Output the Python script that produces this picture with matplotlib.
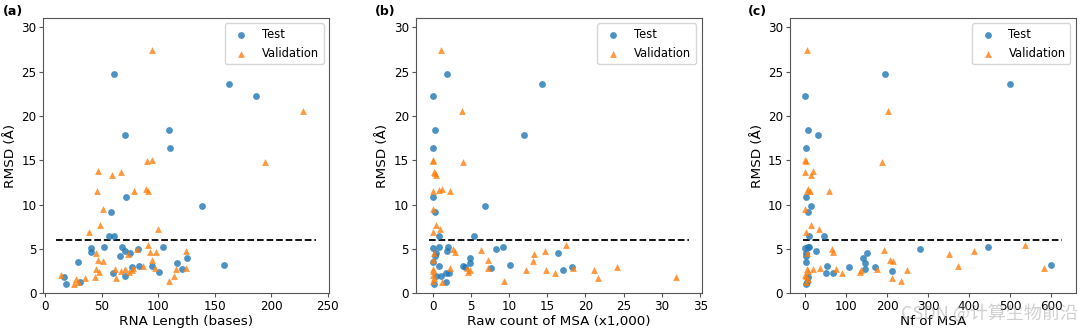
import matplotlib
matplotlib.use("Agg")
import matplotlib.pyplot as plt

# ---- data ----
a_test_x = [61, 163, 187, 110, 71, 111, 72, 139, 58, 57, 61, 41, 41, 52, 68, 71, 66, 75, 82, 104,
            29, 77, 83, 95, 117, 126, 121, 158, 101, 60, 71, 17, 19, 31]
a_test_y = [24.8, 23.6, 22.3, 18.4, 17.9, 16.4, 10.9, 9.8, 9.2, 6.5, 6.5, 5.1, 4.7, 5.2, 5.2, 4.8, 4.2, 4.5, 5.0, 5.2,
            3.5, 3.0, 3.1, 3.1, 3.4, 4.0, 2.7, 3.2, 2.4, 2.3, 2.0, 1.8, 1.0, 1.3]
a_val_x = [95, 228, 195, 90, 95, 47, 59, 67, 46, 79, 89, 91, 51, 49, 39, 100, 45, 91, 93, 98, 125, 73, 81,
           47, 51, 95, 45, 48, 35, 44, 27, 26, 14, 63, 62, 67, 71, 74, 77, 78, 87, 97, 110, 114, 116, 125, 29]
a_val_y = [27.4, 20.6, 14.8, 14.9, 15.0, 13.8, 13.4, 13.7, 11.5, 11.5, 11.8, 11.6, 9.5, 7.7, 6.9, 7.3, 4.5, 5.5,
           4.7, 4.7, 4.8, 4.4, 5.0, 3.8, 3.7, 3.8, 2.7, 2.4, 1.7, 1.8, 1.6, 1.1, 2.1, 1.7, 2.7, 2.5, 2.7, 2.4,
           2.6, 2.9, 3.1, 2.9, 1.4, 1.9, 2.7, 2.9, 1.3]

b_test_x = [1.9, 14.3, 0.1, 0.3, 11.9, 0.1, 0.1, 6.8, 0.3, 0.8, 5.4, 0.1, 0.8, 2.0, 1.9, 0.5, 0.3, 8.3, 9.2,
            0.1, 4.0, 4.2, 4.9, 4.9, 16.4, 10.1, 7.6, 17.1, 18.2, 0.9, 1.1, 1.7, 2.2, 1.8, 0.2, 0.5]
b_test_y = [24.8, 23.6, 22.3, 18.4, 17.9, 16.4, 10.9, 9.8, 9.2, 6.5, 6.5, 5.1, 5.2, 5.2, 4.8, 4.6, 4.2, 5.0, 5.2,
            3.5, 3.1, 3.0, 4.0, 3.4, 4.5, 3.2, 2.8, 2.6, 3.0, 3.1, 2.0, 2.3, 2.3, 1.3, 1.0, 1.9]
b_val_x = [1.1, 3.9, 4.0, 0.0, 0.1, 0.2, 0.3, 0.4, 0.1, 0.9, 1.2, 2.3, 0.0, 0.5, 1.0, 0.0, 2.7, 3.0, 6.4, 14.7,
           17.4, 13.3, 13.2, 7.2, 7.3, 2.3, 4.5, 4.7, 4.9, 12.2, 14.8, 16.0, 18.4, 21.1, 21.7, 24.1, 31.8, 9.3,
           1.3, 0.2, 0.0, 0.1, 0.0, 0.2, 0.0, 0.1]
b_val_y = [27.4, 20.6, 14.8, 15.0, 14.9, 13.7, 13.6, 13.4, 11.5, 11.7, 11.8, 11.5, 9.5, 7.7, 7.3, 6.9, 5.0, 4.7,
           4.9, 4.8, 5.5, 4.4, 3.7, 3.8, 2.8, 2.9, 2.8, 2.4, 2.6, 2.6, 2.6, 2.3, 2.9, 2.6, 1.7, 3.0, 1.8, 1.4,
           1.3, 4.5, 3.8, 2.7, 2.1, 1.7, 1.4, 2.5]

c_test_x = [194, 500, 0, 6, 32, 2, 2, 15, 7, 10, 45, 0, 6, 10, 27, 2, 2, 280, 447, 2, 53, 108, 140, 146, 152,
            146, 170, 211, 599, 51, 67, 8, 2, 4]
c_test_y = [24.8, 23.6, 22.3, 18.4, 17.9, 16.4, 10.9, 9.8, 9.2, 6.5, 6.5, 5.1, 5.2, 5.2, 4.8, 4.6, 4.2, 5.0, 5.2,
            3.5, 3.1, 3.0, 4.0, 3.4, 4.5, 2.7, 3.0, 2.5, 3.2, 2.3, 2.3, 1.8, 1.0, 1.3]
c_val_x = [4, 203, 188, 0, 2, 0, 19, 14, 5, 8, 11, 59, 0, 14, 33, 2, 65, 69, 192, 412, 536, 350, 207, 214, 373,
           36, 19, 4, 76, 89, 133, 136, 176, 248, 582, 211, 235, 3, 6, 0, 2, 8, 4]
c_val_y = [27.4, 20.6, 14.8, 15.0, 14.9, 13.7, 13.8, 13.4, 11.5, 11.8, 11.5, 11.5, 9.5, 7.7, 7.3, 6.9, 5.0, 4.7,
           4.9, 4.8, 5.5, 4.4, 3.8, 3.7, 3.1, 2.9, 2.7, 2.7, 2.7, 2.3, 2.4, 2.6, 2.7, 2.6, 2.9, 1.7, 1.4, 1.3,
           1.6, 2.1, 1.9, 2.5, 4.5]

panel_labels = ["(a)", "(b)", "(c)"]
x_labels = ["RNA Length (bases)", "Raw count of MSA (x1,000)", "Nf of MSA"]
threshold = 6
hline_ranges = [(10, 240), (-0.5, 33.5), (-5, 628)]
xlims = [(-1.5, 251.5), (-2.2, 35.2), (-37, 661)]
xticks = [[0, 50, 100, 150, 200, 250], [0, 5, 10, 15, 20, 25, 30, 35], [0, 100, 200, 300, 400, 500, 600]]

data = [(a_test_x, a_test_y, a_val_x, a_val_y),
        (b_test_x, b_test_y, b_val_x, b_val_y),
        (c_test_x, c_test_y, c_val_x, c_val_y)]

fig = plt.figure(figsize=(10.8, 3.29), dpi=100)
lefts = [43.3 / 1080, 415.7 / 1080, 790 / 1080]
w = 286 / 1080
bottom = (329 - 293.3) / 329
h = (293.3 - 17.7) / 329
label_x = [3 / 1080, 375 / 1080, 748 / 1080]

for i in range(3):
    ax = fig.add_axes([lefts[i], bottom, w, h])
    tx, ty, vx, vy = data[i]
    ax.scatter(tx, ty, s=24, marker='o', color='#1f77b4', alpha=0.8, linewidths=0, label='Test', zorder=3)
    ax.scatter(vx, vy, s=24, marker='^', color='#ff7f0e', alpha=0.8, linewidths=0, label='Validation', zorder=3)
    ax.hlines(threshold, hline_ranges[i][0], hline_ranges[i][1], colors='black', linestyles='--', linewidth=1.3, zorder=2)
    ax.set_xlim(*xlims[i])
    ax.set_ylim(0, 31.1)
    ax.set_xticks(xticks[i])
    ax.set_yticks([0, 5, 10, 15, 20, 25, 30])
    ax.tick_params(labelsize=8.6, length=3, pad=2, color='#555555')
    for sp in ax.spines.values():
        sp.set_color('#555555')
        sp.set_linewidth(0.8)
    ax.set_xlabel(x_labels[i], fontsize=9.7, labelpad=1)
    ax.set_ylabel("RMSD (Å)", fontsize=9.7, labelpad=3)
    ax.legend(loc='upper right', fontsize=8.3)
    fig.text(label_x[i], 1 - 11 / 329, panel_labels[i], fontsize=9, fontweight='bold', va='center', ha='left')

fig.text(1078 / 1080, 1 - 313 / 329, "CSDN @计算生物前沿", fontsize=13, color='#aaaaaa', alpha=0.55,
         ha='right', va='center', family=['Noto Sans CJK SC', 'DejaVu Sans'])

fig.savefig("out.png", dpi=100)
